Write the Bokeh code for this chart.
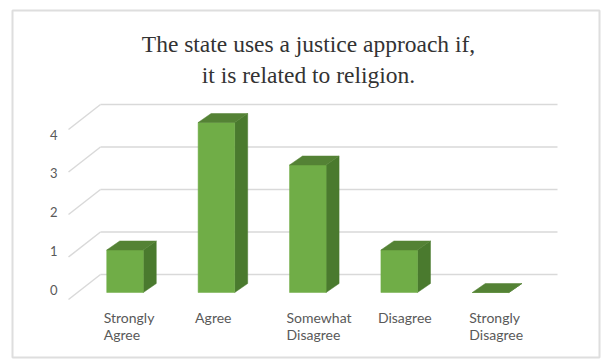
from bokeh.plotting import figure
from bokeh.models import Range1d
from bokeh.core.properties import value
from bokeh.embed import file_html
from bokeh.resources import INLINE

# ---- data ----
categories = ["Strongly\nAgree", "Agree", "Somewhat\nDisagree", "Disagree", "Strongly\nDisagree"]
counts = [1, 4, 3, 1, 0]
y_ticks = [0, 1, 2, 3, 4]
y_tick_labels = ["0", "1", "2", "3", "4"]
title_lines = ["The state uses a justice approach if,", "it is related to religion."]

# ---- layout constants (pixels) ----
W, H = 601, 360
FL, FT, FR, FB = 12, 10, 599, 357      # bordered chart area
X0_PX, X_STEP = 124.5, 91.4            # first category centre, px per category
Y0_PX, Y_STEP = 292.0, 42.5            # value 0 on bar front plane, px per unit


def px2x(px):
    return (px - X0_PX) / X_STEP


def px2y(py):
    return (Y0_PX - py) / Y_STEP


p = figure(width=W, height=H,
           x_range=Range1d(px2x(FL), px2x(FR)),
           y_range=Range1d(px2y(FB), px2y(FT)),
           output_backend="svg", toolbar_location=None,
           x_axis_location=None, y_axis_location=None,
           min_border_left=FL, min_border_right=W - FR,
           min_border_top=FT, min_border_bottom=H - FB)
p.grid.grid_line_color = None
p.outline_line_color = "#dedede"
p.outline_line_width = 2
p.background_fill_color = "white"
p.border_fill_color = "white"

# ---- 3D wall gridlines ----
back_left = px2x(100)
back_right = px2x(557)
back_dy = 18 / Y_STEP
front_left = px2x(68)
front_dy = -7 / Y_STEP
grid_col = "#d9d9d9"
p.segment(x0=[back_left] * len(y_ticks), y0=[v + back_dy for v in y_ticks],
          x1=[back_right] * len(y_ticks), y1=[v + back_dy for v in y_ticks],
          line_color=grid_col, line_width=1.5)
p.segment(x0=[front_left] * len(y_ticks), y0=[v + front_dy for v in y_ticks],
          x1=[back_left] * len(y_ticks), y1=[v + back_dy for v in y_ticks],
          line_color=grid_col, line_width=1.5)

# ---- 3D bars ----
hw = 0.2
DX = 13 / X_STEP
DY = 9 / Y_STEP
front_xs, front_ys, side_xs, side_ys, top_xs, top_ys = [], [], [], [], [], []
for i, v in enumerate(counts):
    l, r = i - hw, i + hw
    front_xs.append([l, r, r, l])
    front_ys.append([0, 0, v, v])
    side_xs.append([r, r + DX, r + DX, r])
    side_ys.append([0, DY, v + DY, v])
    top_xs.append([l, r, r + DX, l + DX])
    top_ys.append([v, v, v + DY, v + DY])

p.patches(side_xs, side_ys, fill_color="#4a7a2e", line_color="#4a7a2e", line_width=0.5)
p.patches(front_xs, front_ys, fill_color="#70ad47", line_color="#70ad47", line_width=0.5)
p.patches(top_xs, top_ys, fill_color="#548235", line_color="#548235", line_width=0.5)

# ---- y tick labels (perspective front) ----
LBL_Y0_PX, LBL_STEP = 289.0, 38.75
p.text(x=[px2x(57)] * len(y_ticks),
       y=[px2y(LBL_Y0_PX - LBL_STEP * v) for v in y_ticks],
       text=y_tick_labels, text_align="right", text_baseline="middle",
       text_font=value("Lato"), text_font_size="13px", text_color="#595959")

# ---- category labels ----
p.text(x=[i - hw - 3 / X_STEP for i in range(len(categories))],
       y=[px2y(308)] * len(categories),
       text=categories, text_align="left", text_baseline="top",
       text_font=value("Lato"), text_font_size="14px", text_color="#595959",
       text_line_height=1.0)

# ---- title ----
p.text(x=[px2x(308)] * 2, y=[px2y(43), px2y(74)], text=title_lines,
       text_align="center", text_baseline="alphabetic",
       text_font=value("Liberation Serif"), text_font_size="23.5px",
       text_color="#333333")

open("out.html", "w").write(file_html(p, INLINE))
